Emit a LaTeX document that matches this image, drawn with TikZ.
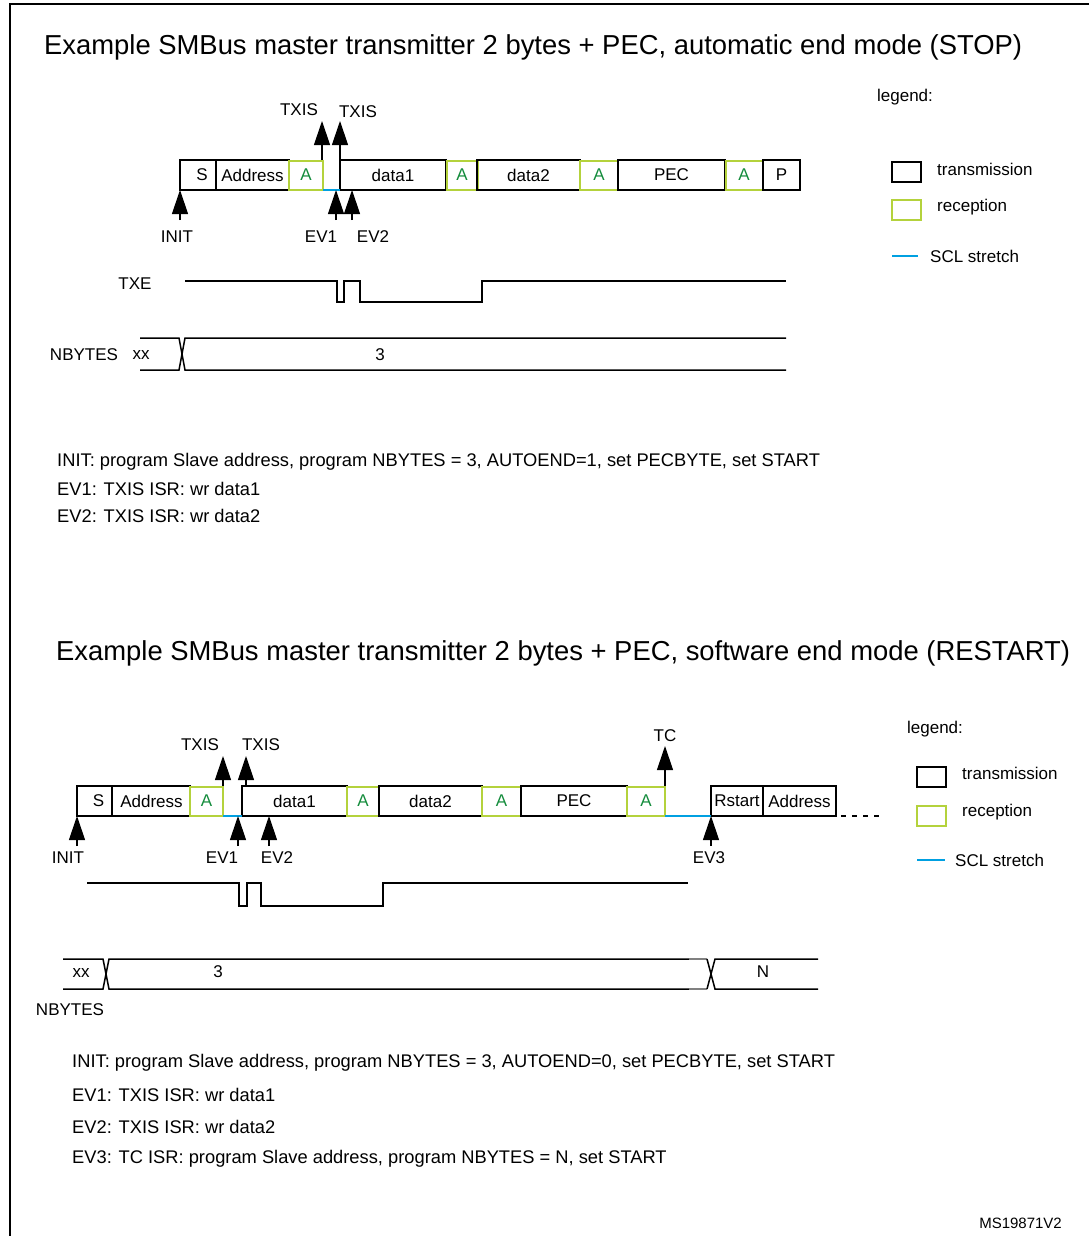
\documentclass[tikz,border=0pt]{standalone}
\usepackage{fontspec}
\setmainfont{Liberation Sans}
\usetikzlibrary{arrows.meta}
\definecolor{rx}{RGB}{180,210,60}
\definecolor{atxt}{RGB}{20,140,60}
\definecolor{scl}{RGB}{0,160,225}
\begin{document}
\begin{tikzpicture}[x=1pt,y=-1pt,
  lab/.style={font=\fontsize{17}{20}\selectfont,inner sep=0pt},
  note/.style={font=\fontsize{18.3}{21}\selectfont,inner sep=0pt,anchor=west},
  ttl/.style={font=\fontsize{27.4}{32}\selectfont,inner sep=0pt,anchor=west},
  tx/.style={draw,line width=1.2pt,inner sep=0pt,minimum height=30pt,font=\fontsize{17}{20}\selectfont},
  rxb/.style={draw=rx,line width=2pt,inner sep=0pt,minimum height=29pt,text=atxt,font=\fontsize{17}{20}\selectfont},
  ev/.style={-{Triangle[length=24pt,width=16pt]},line width=1.2pt},
  wave/.style={line width=1.5pt},
  stretch/.style={draw=scl,line width=1.5pt}]
\useasboundingbox (0,0) rectangle (1089,1236);
\draw[line width=1.2pt] (1089,4) -- (10,4) -- (10,1236);
% ===== top =====
\node[ttl] (t1) at (44,47) {Example SMBus master transmitter 2 bytes + PEC, automatic end mode (STOP)};
\node[tx,minimum width=36pt] (s1) at (198,175) {\hspace*{8pt}S};
\node[tx,minimum width=73pt] (ad1) at (252.5,175) {Address};
\node[rxb,minimum width=34pt] (a11) at (306,175) {A};
\node[tx,minimum width=106pt] (d11) at (393,175) {data1};
\node[rxb,minimum width=31pt] (a12) at (462,175) {A};
\node[tx,minimum width=103pt] (d12) at (528.5,175) {data2};
\node[rxb,minimum width=38pt] (a13) at (599,175) {A};
\node[tx,minimum width=107pt] (pec1) at (671.5,175) {PEC};
\node[rxb,minimum width=37pt] (a14) at (744,175) {A};
\node[tx,minimum width=37pt] (p1) at (781.5,175) {P};
\draw[stretch] (323,190) -- (340,190);
\coordinate (tx1a) at (322,121); \coordinate (tx1b) at (340,121);
\draw[ev] (322,160) -- (tx1a);
\draw[ev] (340,160) -- (tx1b);
\node[lab] (ltx1a) at (299,110) {TXIS};
\node[lab] (ltx1b) at (358,112) {TXIS};
\coordinate (i1) at (180,220); \coordinate (e11) at (336,220); \coordinate (e12) at (352,220);
\draw[ev] (i1) -- (180,190);
\draw[ev] (e11) -- (336,190);
\draw[ev] (e12) -- (352,190);
\node[lab] (li1) at (177,237) {INIT};
\node[lab] (le11) at (321,237) {EV1};
\node[lab] (le12) at (373,237) {EV2};
\node[lab] (txe1) at (135,284) {TXE};
\draw[wave] (185,281) -- (337,281) -- (337,302) -- (344,302) -- (344,281) -- (360,281) -- (360,302) -- (482,302) -- (482,281) -- (786,281);
\node[lab] (nb1) at (84,355) {NBYTES};
\node[lab] (xx1) at (141,355) {xx};
\draw[wave] (140,338) -- (179,338) -- (185,370) -- (786,370);
\draw[wave] (140,370) -- (179,370) -- (185,338) -- (786,338);
\node[lab] (n31) at (380,355) {3};
% legend top
\node[lab] (lg1) at (905,97) {legend:};
\node[draw,line width=1.2pt,minimum width=29pt,minimum height=20pt,inner sep=0pt] (lt1) at (906.5,172) {};
\node[lab,anchor=west] (ltt1) at (937,169) {transmission};
\node[draw=rx,line width=2pt,minimum width=29pt,minimum height=20pt,inner sep=0pt] (lr1) at (906.5,210) {};
\node[lab,anchor=west] (lrt1) at (937,207) {reception};
\draw[stretch] (892,256) -- (918,256);
\node[lab,anchor=west] (lst1) at (930,256) {SCL stretch};
\node[note] (nt11) at (57,462) {INIT: program Slave address, program NBYTES = 3, AUTOEND=1, set PECBYTE, set START};
\node[note] (nt12) at (57,489) {EV1: TXIS ISR: wr data1};
\node[note] (nt13) at (57,516) {EV2: TXIS ISR: wr data2};
% ===== bottom =====
\node[ttl] (t2) at (56,653) {Example SMBus master transmitter 2 bytes + PEC, software end mode (RESTART)};
\node[tx,minimum width=35pt] (s2) at (94.5,801) {\hspace*{8pt}S};
\node[tx,minimum width=78pt] (ad2) at (151.5,801) {Address};
\node[rxb,minimum width=33pt] (a21) at (206.5,801) {A};
\node[tx,minimum width=105pt] (d21) at (294.5,801) {data1};
\node[rxb,minimum width=32pt] (a22) at (363,801) {A};
\node[tx,minimum width=103pt] (d22) at (430.5,801) {data2};
\node[rxb,minimum width=39pt] (a23) at (501.5,801) {A};
\node[tx,minimum width=106pt] (pec2) at (574,801) {PEC};
\node[rxb,minimum width=38pt] (a24) at (646,801) {A};
\node[tx,minimum width=52pt] (rs2) at (737,801) {Rstart};
\node[tx,minimum width=73pt] (ad22) at (799.5,801) {Address};
\draw[stretch] (223,816) -- (242,816);
\draw[stretch] (665,816) -- (711,816);
\draw[line width=1.2pt,dash pattern=on 5pt off 6pt] (841,816) -- (880,816);
\coordinate (tx2a) at (223,756); \coordinate (tx2b) at (246,756); \coordinate (tc2) at (665,746);
\draw[ev] (223,786) -- (tx2a);
\draw[ev] (246,786) -- (tx2b);
\draw[ev] (665,786) -- (tc2);
\node[lab] (ltx2a) at (200,745) {TXIS};
\node[lab] (ltx2b) at (261,745) {TXIS};
\node[lab] (ltc2) at (665,736) {TC};
\coordinate (i2) at (77,846); \coordinate (e21) at (238,846); \coordinate (e22) at (269,846); \coordinate (e23) at (711,846);
\draw[ev] (i2) -- (77,816);
\draw[ev] (e21) -- (238,816);
\draw[ev] (e22) -- (269,816);
\draw[ev] (e23) -- (711,816);
\node[lab] (li2) at (68,858) {INIT};
\node[lab] (le21) at (222,858) {EV1};
\node[lab] (le22) at (277,858) {EV2};
\node[lab] (le23) at (709,858) {EV3};
\draw[wave] (87,883) -- (239,883) -- (239,906) -- (247,906) -- (247,883) -- (261,883) -- (261,906) -- (383,906) -- (383,883) -- (688,883);
\draw[wave] (63,959) -- (103,959) -- (109,989) -- (689,989);
\draw[wave] (63,989) -- (103,989) -- (109,959) -- (689,959);
\draw[line width=1.2pt,gray] (689,959) -- (707,959) (689,989) -- (707,989);
\draw[wave] (707,959) -- (711,974) -- (715,989) -- (818,989);
\draw[wave] (707,989) -- (711,974) -- (715,959) -- (818,959);
\node[lab] (xx2) at (81,973) {xx};
\node[lab] (n32) at (218,972) {3};
\node[lab] (nn2) at (763,972) {N};
\node[lab] (nb2) at (70,1010) {NBYTES};
% legend bottom
\node[lab] (lg2) at (935,729) {legend:};
\node[draw,line width=1.2pt,minimum width=29pt,minimum height=20pt,inner sep=0pt] (lt2) at (931.5,777) {};
\node[lab,anchor=west] (ltt2) at (962,773) {transmission};
\node[draw=rx,line width=2pt,minimum width=29pt,minimum height=20pt,inner sep=0pt] (lr2) at (931.5,816) {};
\node[lab,anchor=west] (lrt2) at (962,812) {reception};
\draw[stretch] (917,860) -- (945,860);
\node[lab,anchor=west] (lst2) at (955,860) {SCL stretch};
\node[note] (nt21) at (72,1063) {INIT: program Slave address, program NBYTES = 3, AUTOEND=0, set PECBYTE, set START};
\node[note] (nt22) at (72,1095) {EV1: TXIS ISR: wr data1};
\node[note] (nt23) at (72,1127) {EV2: TXIS ISR: wr data2};
\node[note] (nt24) at (72,1159) {EV3: TC ISR: program Slave address, program NBYTES = N, set START};
\node[lab,font=\fontsize{15}{18}\selectfont,anchor=east] (ms) at (1062,1223) {MS19871V2};
\end{tikzpicture}
\end{document}
